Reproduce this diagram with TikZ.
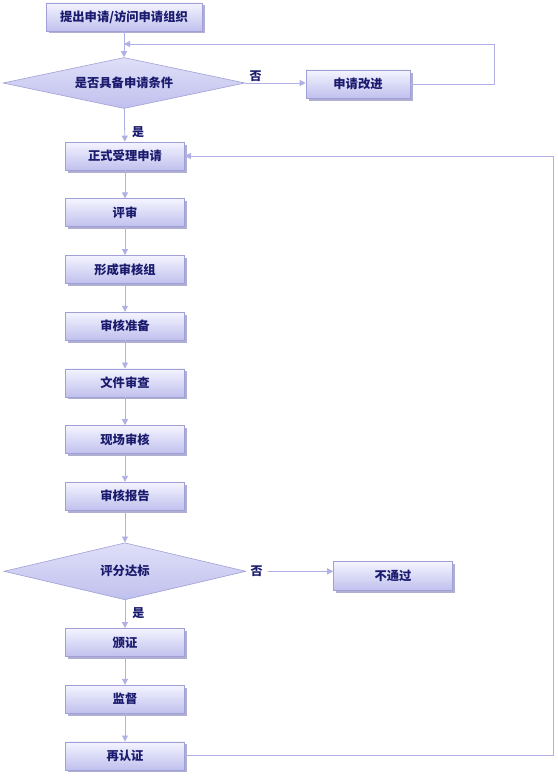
\documentclass[tikz,border=0pt]{standalone}
\usepackage{fontspec}
\setmainfont{Noto Sans CJK SC}
\usepackage{xcolor}
\usetikzlibrary{shapes.geometric,arrows.meta,positioning,shadows}

\definecolor{lavline}{HTML}{B0B0E4}
\definecolor{lavedge}{HTML}{A0A0D6}
\definecolor{lavtop}{HTML}{F4F4FF}
\definecolor{lavbot}{HTML}{C0C0EE}
\definecolor{lavshadow}{HTML}{A6A6CC}
\definecolor{navy}{HTML}{1A1A6E}

\begin{document}
\begin{tikzpicture}[x=1pt, y=-1pt,
  node distance=28.1pt,
  box/.style={draw=lavedge, line width=0.6pt, top color=lavtop, bottom color=lavbot,
              minimum width=119pt, minimum height=28pt, inner sep=0pt,
              font=\fontsize{12.3}{14}\selectfont\bfseries, text=navy,
              drop shadow={shadow xshift=2.5pt, shadow yshift=-2.5pt,
                           fill=lavshadow, opacity=0.9}},
  dec/.style={diamond, draw=lavedge, line width=0.6pt, top color=lavtop!60!lavbot,
              bottom color=lavbot, minimum width=242pt, minimum height=51pt,
              aspect=4.7, inner sep=0pt,
              font=\fontsize{12.3}{14}\selectfont\bfseries, text=navy},
  lbl/.style={font=\fontsize{12}{14}\selectfont\bfseries, text=navy, inner sep=1pt},
  ln/.style={draw=lavline, line width=0.8pt},
  ar/.style={ln, -{Triangle[length=6pt, width=6pt]}}
]
  \useasboundingbox (0,0) rectangle (557,776);

  % application and pre-check
  \node[box, minimum width=156pt] (apply) at (124,17) {提出申请/访问申请组织};
  \node[dec] (cond) at (124,83) {是否具备申请条件};
  \node[box, minimum width=104pt] (improve) at (358,84) {申请改进};

  % main chain
  \node[box] (accept) at (125,156) {正式受理申请};
  \node[box, below=of accept] (review) {评审};
  \node[box, below=of review] (team) {形成审核组};
  \node[box, below=of team] (prep) {审核准备};
  \node[box, below=of prep] (docs) {文件审查};
  \node[box, below=of docs] (site) {现场审核};
  \node[box, below=of site] (report) {审核报告};
  \node[dec, minimum height=57pt, below=32pt of report] (score) {评分达标};
  \node[box, minimum height=29pt] (fail) at (393,576) {不通过};
  \node[box, below=28pt of score] (cert) {颁证};
  \node[box, below=of cert] (watch) {监督};
  \node[box, below=of watch] (recert) {再认证};

  \coordinate (loopA) at (494,44);
  \coordinate (merge) at (124,44);
  \coordinate (loopB) at (553,156);

  \draw[ar] (apply) -- (cond);
  \draw[ar] (cond.east) -- (cond.east -| improve.west);
  \node[lbl, above right=0pt and 3pt of cond.east] (no1) {否};
  \draw[ar] (improve.east) -| (loopA) -- (merge);
  \draw[ar] (cond) -- node[lbl, pos=0.72, right=6pt] (yes1) {是} (accept);
  \draw[ar] (accept) -- (review);
  \draw[ar] (review) -- (team);
  \draw[ar] (team) -- (prep);
  \draw[ar] (prep) -- (docs);
  \draw[ar] (docs) -- (site);
  \draw[ar] (site) -- (report);
  \draw[ar] (report) -- (score);
  \draw[ar] (score.east) -- node[lbl, pos=0.12, fill=white, inner xsep=5pt] (no2) {否}
    (score.east -| fail.west);
  \draw[ar] (score) -- node[lbl, pos=0.45, right=6pt] (yes2) {是} (cert);
  \draw[ar] (cert) -- (watch);
  \draw[ar] (watch) -- (recert);
  \draw[ar] (recert.east) -| (loopB) -- (accept.east);
\end{tikzpicture}
\end{document}
